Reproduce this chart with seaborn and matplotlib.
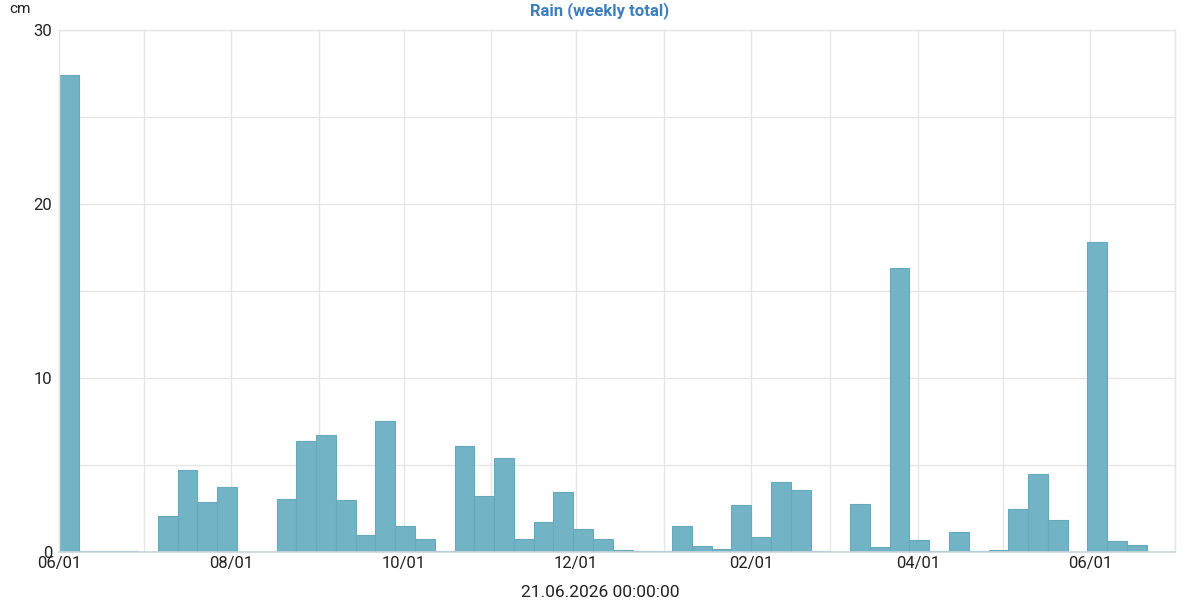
# Weekly rain totals, Jun 2025 - Jun 2026
import pandas as pd
import matplotlib
matplotlib.use("Agg")
import matplotlib.pyplot as plt
import matplotlib.dates as mdates
import seaborn as sns

# week start dates (one bar per week)
week_start = "2025-06-01"
n_weeks = 55

# weekly totals in cm
rain_cm = [
    27.4, 0.05, 0.05, 0.05, 0.0, 2.05, 4.7, 2.85, 3.75, 0.0,
    0.0, 3.05, 6.4, 6.75, 3.0, 1.0, 7.55, 1.5, 0.75, 0.05,
    6.1, 3.2, 5.4, 0.75, 1.75, 3.45, 1.3, 0.75, 0.1, 0.05,
    0.05, 1.5, 0.35, 0.2, 2.7, 0.85, 4.0, 3.55, 0.05, 0.0,
    2.75, 0.3, 16.3, 0.7, 0.05, 1.15, 0.05, 0.1, 2.5, 4.5,
    1.85, 0.0, 17.8, 0.65, 0.4,
]

title = "Rain (weekly total)"
y_unit = "cm"
x_caption = "21.06.2026 00:00:00"

sns.set_theme(style="white")
plt.rcParams["font.family"] = ["Roboto", "DejaVu Sans"]

edges = pd.date_range(week_start, periods=n_weeks + 1, freq="7D")
edge_num = [float(v) for v in mdates.date2num(edges)]
mid_num = [(a + b) / 2 for a, b in zip(edge_num[:-1], edge_num[1:])]

df = pd.DataFrame({"week": mid_num, "rain": rain_cm})

fig = plt.figure(figsize=(12, 6), dpi=100)
ax = fig.add_axes([0.0492, 0.08, 0.9300, 0.87])

sns.histplot(data=df, x="week", weights="rain", bins=edge_num,
             color="#73b3c6", edgecolor="#66a8bc", linewidth=0.8,
             alpha=1.0, ax=ax)

ax.set_xlim(mdates.date2num(pd.Timestamp("2025-06-01")),
            mdates.date2num(pd.Timestamp("2026-07-01")))
ax.set_ylim(0, 30)

ax.xaxis.set_major_locator(mdates.MonthLocator(bymonth=[2, 4, 6, 8, 10, 12]))
ax.xaxis.set_minor_locator(mdates.MonthLocator())
ax.xaxis.set_major_formatter(mdates.DateFormatter("%m/%d"))
ax.set_yticks([0, 10, 20, 30])
ax.set_yticks([5, 15, 25], minor=True)

ax.grid(True, which="both", color="#e6e6e6", linewidth=1.0)
ax.set_axisbelow(True)
ax.tick_params(axis="both", which="both", length=0, labelsize=12,
               colors="#222222")
ax.tick_params(axis="x", pad=3)
ax.tick_params(axis="y", pad=5)

for side in ["left", "right", "top"]:
    ax.spines[side].set_color("#e6e6e6")
    ax.spines[side].set_linewidth(1.0)
ax.spines["bottom"].set_color("#c9d5dd")
ax.spines["bottom"].set_linewidth(1.2)

ax.set_ylabel("")
ax.set_xlabel("")

fig.text(0.5, 0.982, title, ha="center", va="center",
         fontsize=12, fontweight="bold", color="#3d7fbd")
fig.text(0.008, 0.985, y_unit, ha="left", va="center",
         fontsize=11, color="#222222")
fig.text(0.5, 0.012, x_caption, ha="center", va="center",
         fontsize=12.5, color="#222222")

fig.savefig("out.png", dpi=100)
